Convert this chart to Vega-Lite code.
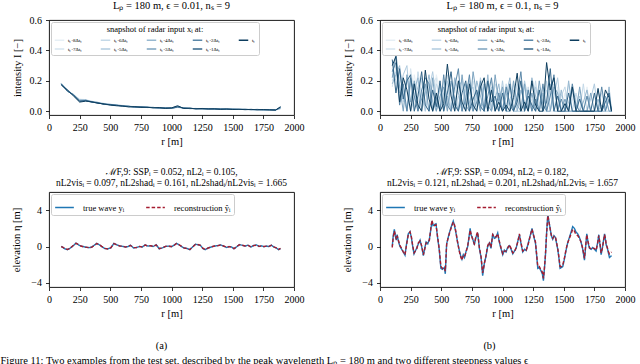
{
"$schema":"https://vega.github.io/schema/vega-lite/v6.json",
"background":"white",
"padding":{"left":0,"top":0,"right":0,"bottom":0},
"config":{
 "font":"Liberation Serif",
 "view":{"stroke":"black","strokeWidth":0.9},
 "axis":{"domain":false,"grid":false,"tickColor":"black","tickSize":3.5,"tickWidth":0.8,"labelFont":"Liberation Serif","labelFontSize":10,"labelColor":"black","labelPadding":4,"labelFlush":false,"labelOverlap":false,"labelBound":false,"titleFont":"Liberation Serif","titleFontSize":10.5,"titleFontWeight":"normal","titleColor":"black"},
 "axisX":{"titlePadding":4},
 "title":{"font":"Liberation Serif","fontSize":10.5,"fontWeight":"normal","color":"black","offset":4},
 "legend":{"labelFont":"Liberation Serif","titleFont":"Liberation Serif","labelColor":"black","titleColor":"black","titleFontWeight":"normal"}
},
"title":{"text":"Figure 11: Two examples from the test set, described by the peak wavelength Lₚ = 180 m and two different steepness values ϵ","orient":"bottom","anchor":"start","fontSize":10.5,"offset":-9,"dx":-11,"frame":"bounds"},
"datasets":{
"tl":[
{"r":100,"k":8,"v":0.186},{"r":150,"k":8,"v":0.137},{"r":200,"k":8,"v":0.107},{"r":250,"k":8,"v":0.08},{"r":300,"k":8,"v":0.076},{"r":350,"k":8,"v":0.066},{"r":400,"k":8,"v":0.057},{"r":450,"k":8,"v":0.052},{"r":500,"k":8,"v":0.047},{"r":550,"k":8,"v":0.041},{"r":600,"k":8,"v":0.037},{"r":650,"k":8,"v":0.031},{"r":700,"k":8,"v":0.03},{"r":750,"k":8,"v":0.027},{"r":800,"k":8,"v":0.026},{"r":850,"k":8,"v":0.024},{"r":900,"k":8,"v":0.022},{"r":950,"k":8,"v":0.021},{"r":1000,"k":8,"v":0.02},{"r":1050,"k":8,"v":0.024},{"r":1100,"k":8,"v":0.019},{"r":1150,"k":8,"v":0.018},{"r":1200,"k":8,"v":0.017},{"r":1250,"k":8,"v":0.016},{"r":1300,"k":8,"v":0.015},{"r":1350,"k":8,"v":0.015},{"r":1400,"k":8,"v":0.013},{"r":1450,"k":8,"v":0.013},{"r":1500,"k":8,"v":0.012},{"r":1550,"k":8,"v":0.012},{"r":1600,"k":8,"v":0.011},{"r":1650,"k":8,"v":0.01},{"r":1700,"k":8,"v":0.01},{"r":1750,"k":8,"v":0.009},{"r":1800,"k":8,"v":0.009},{"r":1850,"k":8,"v":0.008},{"r":1890,"k":8,"v":0.015},
{"r":100,"k":7,"v":0.181},{"r":150,"k":7,"v":0.139},{"r":200,"k":7,"v":0.112},{"r":250,"k":7,"v":0.078},{"r":300,"k":7,"v":0.073},{"r":350,"k":7,"v":0.065},{"r":400,"k":7,"v":0.059},{"r":450,"k":7,"v":0.051},{"r":500,"k":7,"v":0.043},{"r":550,"k":7,"v":0.042},{"r":600,"k":7,"v":0.036},{"r":650,"k":7,"v":0.033},{"r":700,"k":7,"v":0.029},{"r":750,"k":7,"v":0.029},{"r":800,"k":7,"v":0.025},{"r":850,"k":7,"v":0.025},{"r":900,"k":7,"v":0.021},{"r":950,"k":7,"v":0.022},{"r":1000,"k":7,"v":0.019},{"r":1050,"k":7,"v":0.025},{"r":1100,"k":7,"v":0.02},{"r":1150,"k":7,"v":0.018},{"r":1200,"k":7,"v":0.016},{"r":1250,"k":7,"v":0.017},{"r":1300,"k":7,"v":0.016},{"r":1350,"k":7,"v":0.014},{"r":1400,"k":7,"v":0.014},{"r":1450,"k":7,"v":0.012},{"r":1500,"k":7,"v":0.012},{"r":1550,"k":7,"v":0.011},{"r":1600,"k":7,"v":0.011},{"r":1650,"k":7,"v":0.011},{"r":1700,"k":7,"v":0.009},{"r":1750,"k":7,"v":0.01},{"r":1800,"k":7,"v":0.008},{"r":1850,"k":7,"v":0.008},{"r":1890,"k":7,"v":0.016},
{"r":100,"k":6,"v":0.184},{"r":150,"k":6,"v":0.134},{"r":200,"k":6,"v":0.109},{"r":250,"k":6,"v":0.076},{"r":300,"k":6,"v":0.075},{"r":350,"k":6,"v":0.062},{"r":400,"k":6,"v":0.056},{"r":450,"k":6,"v":0.05},{"r":500,"k":6,"v":0.046},{"r":550,"k":6,"v":0.039},{"r":600,"k":6,"v":0.038},{"r":650,"k":6,"v":0.032},{"r":700,"k":6,"v":0.031},{"r":750,"k":6,"v":0.028},{"r":800,"k":6,"v":0.027},{"r":850,"k":6,"v":0.023},{"r":900,"k":6,"v":0.023},{"r":950,"k":6,"v":0.02},{"r":1000,"k":6,"v":0.02},{"r":1050,"k":6,"v":0.028},{"r":1100,"k":6,"v":0.019},{"r":1150,"k":6,"v":0.019},{"r":1200,"k":6,"v":0.017},{"r":1250,"k":6,"v":0.016},{"r":1300,"k":6,"v":0.015},{"r":1350,"k":6,"v":0.015},{"r":1400,"k":6,"v":0.013},{"r":1450,"k":6,"v":0.013},{"r":1500,"k":6,"v":0.012},{"r":1550,"k":6,"v":0.012},{"r":1600,"k":6,"v":0.011},{"r":1650,"k":6,"v":0.01},{"r":1700,"k":6,"v":0.011},{"r":1750,"k":6,"v":0.009},{"r":1800,"k":6,"v":0.009},{"r":1850,"k":6,"v":0.008},{"r":1890,"k":6,"v":0.017},
{"r":100,"k":5,"v":0.179},{"r":150,"k":5,"v":0.141},{"r":200,"k":5,"v":0.103},{"r":250,"k":5,"v":0.072},{"r":300,"k":5,"v":0.071},{"r":350,"k":5,"v":0.064},{"r":400,"k":5,"v":0.058},{"r":450,"k":5,"v":0.048},{"r":500,"k":5,"v":0.044},{"r":550,"k":5,"v":0.041},{"r":600,"k":5,"v":0.035},{"r":650,"k":5,"v":0.034},{"r":700,"k":5,"v":0.028},{"r":750,"k":5,"v":0.03},{"r":800,"k":5,"v":0.024},{"r":850,"k":5,"v":0.024},{"r":900,"k":5,"v":0.022},{"r":950,"k":5,"v":0.021},{"r":1000,"k":5,"v":0.021},{"r":1050,"k":5,"v":0.026},{"r":1100,"k":5,"v":0.021},{"r":1150,"k":5,"v":0.017},{"r":1200,"k":5,"v":0.018},{"r":1250,"k":5,"v":0.015},{"r":1300,"k":5,"v":0.017},{"r":1350,"k":5,"v":0.014},{"r":1400,"k":5,"v":0.014},{"r":1450,"k":5,"v":0.012},{"r":1500,"k":5,"v":0.013},{"r":1550,"k":5,"v":0.011},{"r":1600,"k":5,"v":0.012},{"r":1650,"k":5,"v":0.011},{"r":1700,"k":5,"v":0.01},{"r":1750,"k":5,"v":0.01},{"r":1800,"k":5,"v":0.009},{"r":1850,"k":5,"v":0.009},{"r":1890,"k":5,"v":0.018},
{"r":100,"k":4,"v":0.182},{"r":150,"k":4,"v":0.136},{"r":200,"k":4,"v":0.106},{"r":250,"k":4,"v":0.074},{"r":300,"k":4,"v":0.074},{"r":350,"k":4,"v":0.06},{"r":400,"k":4,"v":0.053},{"r":450,"k":4,"v":0.049},{"r":500,"k":4,"v":0.045},{"r":550,"k":4,"v":0.04},{"r":600,"k":4,"v":0.037},{"r":650,"k":4,"v":0.031},{"r":700,"k":4,"v":0.03},{"r":750,"k":4,"v":0.027},{"r":800,"k":4,"v":0.026},{"r":850,"k":4,"v":0.025},{"r":900,"k":4,"v":0.021},{"r":950,"k":4,"v":0.022},{"r":1000,"k":4,"v":0.02},{"r":1050,"k":4,"v":0.029},{"r":1100,"k":4,"v":0.02},{"r":1150,"k":4,"v":0.02},{"r":1200,"k":4,"v":0.016},{"r":1250,"k":4,"v":0.018},{"r":1300,"k":4,"v":0.015},{"r":1350,"k":4,"v":0.015},{"r":1400,"k":4,"v":0.013},{"r":1450,"k":4,"v":0.014},{"r":1500,"k":4,"v":0.012},{"r":1550,"k":4,"v":0.012},{"r":1600,"k":4,"v":0.011},{"r":1650,"k":4,"v":0.012},{"r":1700,"k":4,"v":0.01},{"r":1750,"k":4,"v":0.009},{"r":1800,"k":4,"v":0.01},{"r":1850,"k":4,"v":0.008},{"r":1890,"k":4,"v":0.02},
{"r":100,"k":3,"v":0.176},{"r":150,"k":3,"v":0.13},{"r":200,"k":3,"v":0.11},{"r":250,"k":3,"v":0.07},{"r":300,"k":3,"v":0.069},{"r":350,"k":3,"v":0.063},{"r":400,"k":3,"v":0.057},{"r":450,"k":3,"v":0.045},{"r":500,"k":3,"v":0.041},{"r":550,"k":3,"v":0.039},{"r":600,"k":3,"v":0.034},{"r":650,"k":3,"v":0.033},{"r":700,"k":3,"v":0.026},{"r":750,"k":3,"v":0.028},{"r":800,"k":3,"v":0.025},{"r":850,"k":3,"v":0.024},{"r":900,"k":3,"v":0.023},{"r":950,"k":3,"v":0.021},{"r":1000,"k":3,"v":0.018},{"r":1050,"k":3,"v":0.027},{"r":1100,"k":3,"v":0.022},{"r":1150,"k":3,"v":0.018},{"r":1200,"k":3,"v":0.017},{"r":1250,"k":3,"v":0.016},{"r":1300,"k":3,"v":0.016},{"r":1350,"k":3,"v":0.014},{"r":1400,"k":3,"v":0.014},{"r":1450,"k":3,"v":0.013},{"r":1500,"k":3,"v":0.013},{"r":1550,"k":3,"v":0.013},{"r":1600,"k":3,"v":0.012},{"r":1650,"k":3,"v":0.01},{"r":1700,"k":3,"v":0.011},{"r":1750,"k":3,"v":0.01},{"r":1800,"k":3,"v":0.01},{"r":1850,"k":3,"v":0.009},{"r":1890,"k":3,"v":0.022},
{"r":100,"k":2,"v":0.18},{"r":150,"k":2,"v":0.138},{"r":200,"k":2,"v":0.104},{"r":250,"k":2,"v":0.064},{"r":300,"k":2,"v":0.072},{"r":350,"k":2,"v":0.061},{"r":400,"k":2,"v":0.054},{"r":450,"k":2,"v":0.047},{"r":500,"k":2,"v":0.043},{"r":550,"k":2,"v":0.037},{"r":600,"k":2,"v":0.036},{"r":650,"k":2,"v":0.03},{"r":700,"k":2,"v":0.029},{"r":750,"k":2,"v":0.026},{"r":800,"k":2,"v":0.027},{"r":850,"k":2,"v":0.023},{"r":900,"k":2,"v":0.022},{"r":950,"k":2,"v":0.02},{"r":1000,"k":2,"v":0.021},{"r":1050,"k":2,"v":0.031},{"r":1100,"k":2,"v":0.019},{"r":1150,"k":2,"v":0.019},{"r":1200,"k":2,"v":0.016},{"r":1250,"k":2,"v":0.017},{"r":1300,"k":2,"v":0.015},{"r":1350,"k":2,"v":0.016},{"r":1400,"k":2,"v":0.013},{"r":1450,"k":2,"v":0.014},{"r":1500,"k":2,"v":0.012},{"r":1550,"k":2,"v":0.012},{"r":1600,"k":2,"v":0.011},{"r":1650,"k":2,"v":0.011},{"r":1700,"k":2,"v":0.01},{"r":1750,"k":2,"v":0.01},{"r":1800,"k":2,"v":0.009},{"r":1850,"k":2,"v":0.008},{"r":1890,"k":2,"v":0.024},
{"r":100,"k":1,"v":0.178},{"r":150,"k":1,"v":0.132},{"r":200,"k":1,"v":0.108},{"r":250,"k":1,"v":0.066},{"r":300,"k":1,"v":0.07},{"r":350,"k":1,"v":0.058},{"r":400,"k":1,"v":0.056},{"r":450,"k":1,"v":0.044},{"r":500,"k":1,"v":0.044},{"r":550,"k":1,"v":0.04},{"r":600,"k":1,"v":0.033},{"r":650,"k":1,"v":0.032},{"r":700,"k":1,"v":0.027},{"r":750,"k":1,"v":0.029},{"r":800,"k":1,"v":0.024},{"r":850,"k":1,"v":0.025},{"r":900,"k":1,"v":0.021},{"r":950,"k":1,"v":0.022},{"r":1000,"k":1,"v":0.019},{"r":1050,"k":1,"v":0.028},{"r":1100,"k":1,"v":0.021},{"r":1150,"k":1,"v":0.017},{"r":1200,"k":1,"v":0.018},{"r":1250,"k":1,"v":0.015},{"r":1300,"k":1,"v":0.017},{"r":1350,"k":1,"v":0.014},{"r":1400,"k":1,"v":0.015},{"r":1450,"k":1,"v":0.012},{"r":1500,"k":1,"v":0.014},{"r":1550,"k":1,"v":0.011},{"r":1600,"k":1,"v":0.013},{"r":1650,"k":1,"v":0.01},{"r":1700,"k":1,"v":0.012},{"r":1750,"k":1,"v":0.009},{"r":1800,"k":1,"v":0.011},{"r":1850,"k":1,"v":0.009},{"r":1890,"k":1,"v":0.026},
{"r":100,"k":0,"v":0.172},{"r":150,"k":0,"v":0.14},{"r":200,"k":0,"v":0.1},{"r":250,"k":0,"v":0.06},{"r":300,"k":0,"v":0.066},{"r":350,"k":0,"v":0.062},{"r":400,"k":0,"v":0.052},{"r":450,"k":0,"v":0.048},{"r":500,"k":0,"v":0.04},{"r":550,"k":0,"v":0.036},{"r":600,"k":0,"v":0.034},{"r":650,"k":0,"v":0.028},{"r":700,"k":0,"v":0.03},{"r":750,"k":0,"v":0.025},{"r":800,"k":0,"v":0.026},{"r":850,"k":0,"v":0.022},{"r":900,"k":0,"v":0.024},{"r":950,"k":0,"v":0.018},{"r":1000,"k":0,"v":0.022},{"r":1050,"k":0,"v":0.036},{"r":1100,"k":0,"v":0.018},{"r":1150,"k":0,"v":0.02},{"r":1200,"k":0,"v":0.015},{"r":1250,"k":0,"v":0.018},{"r":1300,"k":0,"v":0.014},{"r":1350,"k":0,"v":0.016},{"r":1400,"k":0,"v":0.012},{"r":1450,"k":0,"v":0.015},{"r":1500,"k":0,"v":0.011},{"r":1550,"k":0,"v":0.013},{"r":1600,"k":0,"v":0.01},{"r":1650,"k":0,"v":0.012},{"r":1700,"k":0,"v":0.009},{"r":1750,"k":0,"v":0.011},{"r":1800,"k":0,"v":0.008},{"r":1850,"k":0,"v":0.007},{"r":1890,"k":0,"v":0.03}
],
"tr":[
{"r":100,"k":8,"v":0.24},{"r":130,"k":8,"v":0.18},{"r":160,"k":8,"v":0.26},{"r":190,"k":8,"v":0.2},{"r":220,"k":8,"v":0.12},{"r":250,"k":8,"v":0},{"r":280,"k":8,"v":0.24},{"r":310,"k":8,"v":0.1},{"r":340,"k":8,"v":0},{"r":370,"k":8,"v":0.18},{"r":400,"k":8,"v":0.1},{"r":430,"k":8,"v":0},{"r":460,"k":8,"v":0.24},{"r":490,"k":8,"v":0.14},{"r":520,"k":8,"v":0.08},{"r":550,"k":8,"v":0},{"r":580,"k":8,"v":0.18},{"r":610,"k":8,"v":0.12},{"r":640,"k":8,"v":0.2},{"r":670,"k":8,"v":0},{"r":700,"k":8,"v":0},{"r":730,"k":8,"v":0.16},{"r":760,"k":8,"v":0.1},{"r":790,"k":8,"v":0},{"r":820,"k":8,"v":0.14},{"r":850,"k":8,"v":0.2},{"r":880,"k":8,"v":0},{"r":910,"k":8,"v":0.1},{"r":940,"k":8,"v":0},{"r":970,"k":8,"v":0.14},{"r":1000,"k":8,"v":0.1},{"r":1030,"k":8,"v":0},{"r":1060,"k":8,"v":0.16},{"r":1090,"k":8,"v":0},{"r":1120,"k":8,"v":0.2},{"r":1150,"k":8,"v":0.08},{"r":1180,"k":8,"v":0},{"r":1210,"k":8,"v":0.12},{"r":1240,"k":8,"v":0.16},{"r":1270,"k":8,"v":0},{"r":1300,"k":8,"v":0},{"r":1330,"k":8,"v":0.14},{"r":1360,"k":8,"v":0.08},{"r":1390,"k":8,"v":0},{"r":1420,"k":8,"v":0},{"r":1450,"k":8,"v":0.16},{"r":1480,"k":8,"v":0},{"r":1510,"k":8,"v":0.12},{"r":1540,"k":8,"v":0},{"r":1570,"k":8,"v":0.1},{"r":1600,"k":8,"v":0.08},{"r":1630,"k":8,"v":0},{"r":1660,"k":8,"v":0},{"r":1690,"k":8,"v":0.16},{"r":1720,"k":8,"v":0},{"r":1750,"k":8,"v":0.1},{"r":1780,"k":8,"v":0},{"r":1810,"k":8,"v":0},{"r":1840,"k":8,"v":0.08},{"r":1870,"k":8,"v":0},{"r":1890,"k":8,"v":0},
{"r":100,"k":7,"v":0.16},{"r":130,"k":7,"v":0.3},{"r":160,"k":7,"v":0.22},{"r":190,"k":7,"v":0.14},{"r":220,"k":7,"v":0},{"r":250,"k":7,"v":0.28},{"r":280,"k":7,"v":0.12},{"r":310,"k":7,"v":0.06},{"r":340,"k":7,"v":0.2},{"r":370,"k":7,"v":0.14},{"r":400,"k":7,"v":0},{"r":430,"k":7,"v":0.18},{"r":460,"k":7,"v":0.22},{"r":490,"k":7,"v":0},{"r":520,"k":7,"v":0.2},{"r":550,"k":7,"v":0.08},{"r":580,"k":7,"v":0},{"r":610,"k":7,"v":0.22},{"r":640,"k":7,"v":0},{"r":670,"k":7,"v":0.16},{"r":700,"k":7,"v":0.1},{"r":730,"k":7,"v":0},{"r":760,"k":7,"v":0.2},{"r":790,"k":7,"v":0.08},{"r":820,"k":7,"v":0.18},{"r":850,"k":7,"v":0},{"r":880,"k":7,"v":0},{"r":910,"k":7,"v":0.2},{"r":940,"k":7,"v":0.12},{"r":970,"k":7,"v":0},{"r":1000,"k":7,"v":0.08},{"r":1030,"k":7,"v":0.14},{"r":1060,"k":7,"v":0},{"r":1090,"k":7,"v":0.18},{"r":1120,"k":7,"v":0},{"r":1150,"k":7,"v":0.12},{"r":1180,"k":7,"v":0.16},{"r":1210,"k":7,"v":0},{"r":1240,"k":7,"v":0.08},{"r":1270,"k":7,"v":0},{"r":1300,"k":7,"v":0.16},{"r":1330,"k":7,"v":0},{"r":1360,"k":7,"v":0},{"r":1390,"k":7,"v":0.12},{"r":1420,"k":7,"v":0},{"r":1450,"k":7,"v":0.14},{"r":1480,"k":7,"v":0},{"r":1510,"k":7,"v":0},{"r":1540,"k":7,"v":0.18},{"r":1570,"k":7,"v":0.08},{"r":1600,"k":7,"v":0},{"r":1630,"k":7,"v":0.14},{"r":1660,"k":7,"v":0},{"r":1690,"k":7,"v":0.1},{"r":1720,"k":7,"v":0},{"r":1750,"k":7,"v":0},{"r":1780,"k":7,"v":0},{"r":1810,"k":7,"v":0.12},{"r":1840,"k":7,"v":0},{"r":1870,"k":7,"v":0.14},{"r":1890,"k":7,"v":0},
{"r":100,"k":6,"v":0.2},{"r":130,"k":6,"v":0.26},{"r":160,"k":6,"v":0.18},{"r":190,"k":6,"v":0.06},{"r":220,"k":6,"v":0.22},{"r":250,"k":6,"v":0.16},{"r":280,"k":6,"v":0},{"r":310,"k":6,"v":0.26},{"r":340,"k":6,"v":0.1},{"r":370,"k":6,"v":0},{"r":400,"k":6,"v":0.2},{"r":430,"k":6,"v":0},{"r":460,"k":6,"v":0.18},{"r":490,"k":6,"v":0.12},{"r":520,"k":6,"v":0},{"r":550,"k":6,"v":0.24},{"r":580,"k":6,"v":0.14},{"r":610,"k":6,"v":0},{"r":640,"k":6,"v":0.1},{"r":670,"k":6,"v":0},{"r":700,"k":6,"v":0.14},{"r":730,"k":6,"v":0.2},{"r":760,"k":6,"v":0},{"r":790,"k":6,"v":0.12},{"r":820,"k":6,"v":0},{"r":850,"k":6,"v":0.16},{"r":880,"k":6,"v":0.2},{"r":910,"k":6,"v":0},{"r":940,"k":6,"v":0.18},{"r":970,"k":6,"v":0.1},{"r":1000,"k":6,"v":0},{"r":1030,"k":6,"v":0.18},{"r":1060,"k":6,"v":0},{"r":1090,"k":6,"v":0.06},{"r":1120,"k":6,"v":0.18},{"r":1150,"k":6,"v":0},{"r":1180,"k":6,"v":0},{"r":1210,"k":6,"v":0.16},{"r":1240,"k":6,"v":0},{"r":1270,"k":6,"v":0.2},{"r":1300,"k":6,"v":0},{"r":1330,"k":6,"v":0.08},{"r":1360,"k":6,"v":0.14},{"r":1390,"k":6,"v":0},{"r":1420,"k":6,"v":0.18},{"r":1450,"k":6,"v":0},{"r":1480,"k":6,"v":0.1},{"r":1510,"k":6,"v":0.16},{"r":1540,"k":6,"v":0},{"r":1570,"k":6,"v":0},{"r":1600,"k":6,"v":0.12},{"r":1630,"k":6,"v":0},{"r":1660,"k":6,"v":0.18},{"r":1690,"k":6,"v":0},{"r":1720,"k":6,"v":0},{"r":1750,"k":6,"v":0},{"r":1780,"k":6,"v":0.14},{"r":1810,"k":6,"v":0},{"r":1840,"k":6,"v":0.1},{"r":1870,"k":6,"v":0},{"r":1890,"k":6,"v":0},
{"r":100,"k":5,"v":0.28},{"r":130,"k":5,"v":0.2},{"r":160,"k":5,"v":0.12},{"r":190,"k":5,"v":0.24},{"r":220,"k":5,"v":0.3},{"r":250,"k":5,"v":0},{"r":280,"k":5,"v":0.08},{"r":310,"k":5,"v":0.16},{"r":340,"k":5,"v":0.22},{"r":370,"k":5,"v":0},{"r":400,"k":5,"v":0.14},{"r":430,"k":5,"v":0.26},{"r":460,"k":5,"v":0.08},{"r":490,"k":5,"v":0},{"r":520,"k":5,"v":0.12},{"r":550,"k":5,"v":0.2},{"r":580,"k":5,"v":0},{"r":610,"k":5,"v":0.06},{"r":640,"k":5,"v":0.16},{"r":670,"k":5,"v":0.2},{"r":700,"k":5,"v":0},{"r":730,"k":5,"v":0.12},{"r":760,"k":5,"v":0.16},{"r":790,"k":5,"v":0},{"r":820,"k":5,"v":0.22},{"r":850,"k":5,"v":0.08},{"r":880,"k":5,"v":0},{"r":910,"k":5,"v":0.16},{"r":940,"k":5,"v":0.04},{"r":970,"k":5,"v":0},{"r":1000,"k":5,"v":0.2},{"r":1030,"k":5,"v":0},{"r":1060,"k":5,"v":0.08},{"r":1090,"k":5,"v":0.14},{"r":1120,"k":5,"v":0},{"r":1150,"k":5,"v":0},{"r":1180,"k":5,"v":0.2},{"r":1210,"k":5,"v":0.08},{"r":1240,"k":5,"v":0},{"r":1270,"k":5,"v":0.16},{"r":1300,"k":5,"v":0.06},{"r":1330,"k":5,"v":0},{"r":1360,"k":5,"v":0.2},{"r":1390,"k":5,"v":0},{"r":1420,"k":5,"v":0.1},{"r":1450,"k":5,"v":0.22},{"r":1480,"k":5,"v":0},{"r":1510,"k":5,"v":0},{"r":1540,"k":5,"v":0.06},{"r":1570,"k":5,"v":0.14},{"r":1600,"k":5,"v":0},{"r":1630,"k":5,"v":0.1},{"r":1660,"k":5,"v":0},{"r":1690,"k":5,"v":0},{"r":1720,"k":5,"v":0.08},{"r":1750,"k":5,"v":0.18},{"r":1780,"k":5,"v":0},{"r":1810,"k":5,"v":0.04},{"r":1840,"k":5,"v":0},{"r":1870,"k":5,"v":0},{"r":1890,"k":5,"v":0},
{"r":100,"k":4,"v":0.18},{"r":130,"k":4,"v":0.24},{"r":160,"k":4,"v":0.3},{"r":190,"k":4,"v":0.1},{"r":220,"k":4,"v":0},{"r":250,"k":4,"v":0.2},{"r":280,"k":4,"v":0.14},{"r":310,"k":4,"v":0.22},{"r":340,"k":4,"v":0},{"r":370,"k":4,"v":0.12},{"r":400,"k":4,"v":0.24},{"r":430,"k":4,"v":0.06},{"r":460,"k":4,"v":0},{"r":490,"k":4,"v":0.18},{"r":520,"k":4,"v":0},{"r":550,"k":4,"v":0.1},{"r":580,"k":4,"v":0},{"r":610,"k":4,"v":0.22},{"r":640,"k":4,"v":0.12},{"r":670,"k":4,"v":0},{"r":700,"k":4,"v":0.18},{"r":730,"k":4,"v":0.06},{"r":760,"k":4,"v":0},{"r":790,"k":4,"v":0.2},{"r":820,"k":4,"v":0.1},{"r":850,"k":4,"v":0},{"r":880,"k":4,"v":0.24},{"r":910,"k":4,"v":0},{"r":940,"k":4,"v":0.08},{"r":970,"k":4,"v":0.18},{"r":1000,"k":4,"v":0},{"r":1030,"k":4,"v":0.1},{"r":1060,"k":4,"v":0.22},{"r":1090,"k":4,"v":0},{"r":1120,"k":4,"v":0},{"r":1150,"k":4,"v":0.14},{"r":1180,"k":4,"v":0.06},{"r":1210,"k":4,"v":0},{"r":1240,"k":4,"v":0.22},{"r":1270,"k":4,"v":0.1},{"r":1300,"k":4,"v":0},{"r":1330,"k":4,"v":0.12},{"r":1360,"k":4,"v":0},{"r":1390,"k":4,"v":0.18},{"r":1420,"k":4,"v":0},{"r":1450,"k":4,"v":0},{"r":1480,"k":4,"v":0.14},{"r":1510,"k":4,"v":0},{"r":1540,"k":4,"v":0.2},{"r":1570,"k":4,"v":0},{"r":1600,"k":4,"v":0},{"r":1630,"k":4,"v":0},{"r":1660,"k":4,"v":0.06},{"r":1690,"k":4,"v":0.14},{"r":1720,"k":4,"v":0},{"r":1750,"k":4,"v":0},{"r":1780,"k":4,"v":0.08},{"r":1810,"k":4,"v":0},{"r":1840,"k":4,"v":0},{"r":1870,"k":4,"v":0.16},{"r":1890,"k":4,"v":0},
{"r":100,"k":3,"v":0.22},{"r":130,"k":3,"v":0.38},{"r":160,"k":3,"v":0.16},{"r":190,"k":3,"v":0},{"r":220,"k":3,"v":0.24},{"r":250,"k":3,"v":0.06},{"r":280,"k":3,"v":0.2},{"r":310,"k":3,"v":0},{"r":340,"k":3,"v":0.08},{"r":370,"k":3,"v":0.18},{"r":400,"k":3,"v":0},{"r":430,"k":3,"v":0.22},{"r":460,"k":3,"v":0},{"r":490,"k":3,"v":0.1},{"r":520,"k":3,"v":0.16},{"r":550,"k":3,"v":0},{"r":580,"k":3,"v":0.2},{"r":610,"k":3,"v":0.08},{"r":640,"k":3,"v":0},{"r":670,"k":3,"v":0.24},{"r":700,"k":3,"v":0.04},{"r":730,"k":3,"v":0},{"r":760,"k":3,"v":0.26},{"r":790,"k":3,"v":0.1},{"r":820,"k":3,"v":0},{"r":850,"k":3,"v":0.18},{"r":880,"k":3,"v":0.04},{"r":910,"k":3,"v":0},{"r":940,"k":3,"v":0.24},{"r":970,"k":3,"v":0.06},{"r":1000,"k":3,"v":0.16},{"r":1030,"k":3,"v":0},{"r":1060,"k":3,"v":0},{"r":1090,"k":3,"v":0.2},{"r":1120,"k":3,"v":0.04},{"r":1150,"k":3,"v":0},{"r":1180,"k":3,"v":0.18},{"r":1210,"k":3,"v":0},{"r":1240,"k":3,"v":0.12},{"r":1270,"k":3,"v":0},{"r":1300,"k":3,"v":0.2},{"r":1330,"k":3,"v":0.04},{"r":1360,"k":3,"v":0},{"r":1390,"k":3,"v":0},{"r":1420,"k":3,"v":0.16},{"r":1450,"k":3,"v":0.12},{"r":1480,"k":3,"v":0},{"r":1510,"k":3,"v":0.08},{"r":1540,"k":3,"v":0},{"r":1570,"k":3,"v":0},{"r":1600,"k":3,"v":0},{"r":1630,"k":3,"v":0.16},{"r":1660,"k":3,"v":0},{"r":1690,"k":3,"v":0},{"r":1720,"k":3,"v":0.12},{"r":1750,"k":3,"v":0},{"r":1780,"k":3,"v":0},{"r":1810,"k":3,"v":0},{"r":1840,"k":3,"v":0.1},{"r":1870,"k":3,"v":0},{"r":1890,"k":3,"v":0},
{"r":100,"k":2,"v":0.26},{"r":130,"k":2,"v":0.32},{"r":160,"k":2,"v":0.04},{"r":190,"k":2,"v":0.18},{"r":220,"k":2,"v":0},{"r":250,"k":2,"v":0.22},{"r":280,"k":2,"v":0.1},{"r":310,"k":2,"v":0},{"r":340,"k":2,"v":0.14},{"r":370,"k":2,"v":0.22},{"r":400,"k":2,"v":0.18},{"r":430,"k":2,"v":0},{"r":460,"k":2,"v":0.09},{"r":490,"k":2,"v":0},{"r":520,"k":2,"v":0.24},{"r":550,"k":2,"v":0.04},{"r":580,"k":2,"v":0},{"r":610,"k":2,"v":0.16},{"r":640,"k":2,"v":0.28},{"r":670,"k":2,"v":0},{"r":700,"k":2,"v":0.08},{"r":730,"k":2,"v":0.24},{"r":760,"k":2,"v":0},{"r":790,"k":2,"v":0.06},{"r":820,"k":2,"v":0.2},{"r":850,"k":2,"v":0},{"r":880,"k":2,"v":0.1},{"r":910,"k":2,"v":0.22},{"r":940,"k":2,"v":0},{"r":970,"k":2,"v":0.12},{"r":1000,"k":2,"v":0},{"r":1030,"k":2,"v":0.16},{"r":1060,"k":2,"v":0.04},{"r":1090,"k":2,"v":0},{"r":1120,"k":2,"v":0.1},{"r":1150,"k":2,"v":0.26},{"r":1180,"k":2,"v":0},{"r":1210,"k":2,"v":0.14},{"r":1240,"k":2,"v":0},{"r":1270,"k":2,"v":0.08},{"r":1300,"k":2,"v":0},{"r":1330,"k":2,"v":0.18},{"r":1360,"k":2,"v":0},{"r":1390,"k":2,"v":0.1},{"r":1420,"k":2,"v":0.24},{"r":1450,"k":2,"v":0},{"r":1480,"k":2,"v":0.08},{"r":1510,"k":2,"v":0},{"r":1540,"k":2,"v":0},{"r":1570,"k":2,"v":0.18},{"r":1600,"k":2,"v":0.04},{"r":1630,"k":2,"v":0},{"r":1660,"k":2,"v":0},{"r":1690,"k":2,"v":0.1},{"r":1720,"k":2,"v":0},{"r":1750,"k":2,"v":0},{"r":1780,"k":2,"v":0},{"r":1810,"k":2,"v":0.16},{"r":1840,"k":2,"v":0},{"r":1870,"k":2,"v":0.08},{"r":1890,"k":2,"v":0},
{"r":100,"k":1,"v":0.34},{"r":130,"k":1,"v":0.12},{"r":160,"k":1,"v":0.28},{"r":190,"k":1,"v":0.08},{"r":220,"k":1,"v":0.2},{"r":250,"k":1,"v":0.24},{"r":280,"k":1,"v":0},{"r":310,"k":1,"v":0.1},{"r":340,"k":1,"v":0.26},{"r":370,"k":1,"v":0.04},{"r":400,"k":1,"v":0},{"r":430,"k":1,"v":0.14},{"r":460,"k":1,"v":0.03},{"r":490,"k":1,"v":0.2},{"r":520,"k":1,"v":0},{"r":550,"k":1,"v":0.12},{"r":580,"k":1,"v":0.26},{"r":610,"k":1,"v":0.04},{"r":640,"k":1,"v":0},{"r":670,"k":1,"v":0.12},{"r":700,"k":1,"v":0.2},{"r":730,"k":1,"v":0},{"r":760,"k":1,"v":0.08},{"r":790,"k":1,"v":0.14},{"r":820,"k":1,"v":0.03},{"r":850,"k":1,"v":0},{"r":880,"k":1,"v":0.2},{"r":910,"k":1,"v":0.06},{"r":940,"k":1,"v":0.1},{"r":970,"k":1,"v":0},{"r":1000,"k":1,"v":0.12},{"r":1030,"k":1,"v":0},{"r":1060,"k":1,"v":0.18},{"r":1090,"k":1,"v":0},{"r":1120,"k":1,"v":0.06},{"r":1150,"k":1,"v":0.2},{"r":1180,"k":1,"v":0},{"r":1210,"k":1,"v":0.1},{"r":1240,"k":1,"v":0.04},{"r":1270,"k":1,"v":0},{"r":1300,"k":1,"v":0.14},{"r":1330,"k":1,"v":0},{"r":1360,"k":1,"v":0.06},{"r":1390,"k":1,"v":0.28},{"r":1420,"k":1,"v":0},{"r":1450,"k":1,"v":0.1},{"r":1480,"k":1,"v":0},{"r":1510,"k":1,"v":0},{"r":1540,"k":1,"v":0.12},{"r":1570,"k":1,"v":0},{"r":1600,"k":1,"v":0},{"r":1630,"k":1,"v":0.08},{"r":1660,"k":1,"v":0},{"r":1690,"k":1,"v":0},{"r":1720,"k":1,"v":0},{"r":1750,"k":1,"v":0.12},{"r":1780,"k":1,"v":0},{"r":1810,"k":1,"v":0},{"r":1840,"k":1,"v":0.06},{"r":1870,"k":1,"v":0.12},{"r":1890,"k":1,"v":0},
{"r":100,"k":0,"v":0.3},{"r":130,"k":0,"v":0.36},{"r":160,"k":0,"v":0.06},{"r":190,"k":0,"v":0.22},{"r":220,"k":0,"v":0.14},{"r":250,"k":0,"v":0},{"r":280,"k":0,"v":0.18},{"r":310,"k":0,"v":0.04},{"r":340,"k":0,"v":0},{"r":370,"k":0,"v":0.27},{"r":400,"k":0,"v":0.08},{"r":430,"k":0,"v":0},{"r":460,"k":0,"v":0.12},{"r":490,"k":0,"v":0},{"r":520,"k":0,"v":0.05},{"r":550,"k":0,"v":0.31},{"r":580,"k":0,"v":0.1},{"r":610,"k":0,"v":0},{"r":640,"k":0,"v":0.2},{"r":670,"k":0,"v":0.06},{"r":700,"k":0,"v":0},{"r":730,"k":0,"v":0.18},{"r":760,"k":0,"v":0.04},{"r":790,"k":0,"v":0},{"r":820,"k":0,"v":0.16},{"r":850,"k":0,"v":0.22},{"r":880,"k":0,"v":0},{"r":910,"k":0,"v":0.14},{"r":940,"k":0,"v":0},{"r":970,"k":0,"v":0.06},{"r":1000,"k":0,"v":0},{"r":1030,"k":0,"v":0.04},{"r":1060,"k":0,"v":0},{"r":1090,"k":0,"v":0.09},{"r":1120,"k":0,"v":0.25},{"r":1150,"k":0,"v":0},{"r":1180,"k":0,"v":0.06},{"r":1210,"k":0,"v":0},{"r":1240,"k":0,"v":0.2},{"r":1270,"k":0,"v":0.04},{"r":1300,"k":0,"v":0},{"r":1330,"k":0,"v":0},{"r":1360,"k":0,"v":0.32},{"r":1390,"k":0,"v":0.14},{"r":1420,"k":0,"v":0.22},{"r":1450,"k":0,"v":0},{"r":1480,"k":0,"v":0},{"r":1510,"k":0,"v":0.05},{"r":1540,"k":0,"v":0},{"r":1570,"k":0,"v":0.16},{"r":1600,"k":0,"v":0},{"r":1630,"k":0,"v":0},{"r":1660,"k":0,"v":0},{"r":1690,"k":0,"v":0},{"r":1720,"k":0,"v":0},{"r":1750,"k":0,"v":0},{"r":1780,"k":0,"v":0.15},{"r":1810,"k":0,"v":0},{"r":1840,"k":0,"v":0.14},{"r":1870,"k":0,"v":0.09},{"r":1890,"k":0,"v":0}
],
"bl":[
{"r":100,"t":0.02,"p":0.0},{"r":115,"t":-0.12,"p":-0.1},{"r":130,"t":-0.25,"p":-0.22},{"r":150,"t":-0.35,"p":-0.32},{"r":170,"t":-0.2,"p":-0.22},{"r":195,"t":0.05,"p":0.08},{"r":220,"t":0.38,"p":0.35},{"r":240,"t":0.2,"p":0.22},{"r":260,"t":0.05,"p":0.06},{"r":280,"t":0.0,"p":-0.02},{"r":300,"t":-0.08,"p":-0.06},{"r":330,"t":-0.12,"p":-0.14},{"r":350,"t":-0.05,"p":-0.06},{"r":370,"t":0.15,"p":0.12},{"r":390,"t":0.35,"p":0.33},{"r":410,"t":0.2,"p":0.22},{"r":430,"t":0.0,"p":0.02},{"r":455,"t":-0.22,"p":-0.2},{"r":480,"t":-0.25,"p":-0.26},{"r":505,"t":-0.15,"p":-0.12},{"r":530,"t":0.35,"p":0.32},{"r":550,"t":0.2,"p":0.22},{"r":575,"t":0.08,"p":0.06},{"r":600,"t":0.02,"p":0.04},{"r":625,"t":-0.05,"p":-0.06},{"r":645,"t":0.0,"p":0.02},{"r":665,"t":0.15,"p":0.12},{"r":690,"t":-0.15,"p":-0.12},{"r":715,"t":-0.1,"p":-0.12},{"r":740,"t":0.0,"p":0.02},{"r":760,"t":-0.05,"p":-0.04},{"r":785,"t":0.18,"p":0.16},{"r":805,"t":0.05,"p":0.07},{"r":830,"t":0.1,"p":0.08},{"r":850,"t":0.0,"p":0.02},{"r":875,"t":0.2,"p":0.17},{"r":900,"t":-0.25,"p":-0.22},{"r":925,"t":-0.15,"p":-0.16},{"r":950,"t":0.0,"p":0.02},{"r":975,"t":0.05,"p":0.04},{"r":1000,"t":-0.02,"p":0.0},{"r":1020,"t":0.15,"p":0.12},{"r":1040,"t":0.35,"p":0.32},{"r":1060,"t":0.2,"p":0.22},{"r":1080,"t":0.02,"p":0.04},{"r":1100,"t":-0.15,"p":-0.14},{"r":1125,"t":-0.2,"p":-0.22},{"r":1150,"t":-0.35,"p":-0.32},{"r":1175,"t":0.0,"p":-0.02},{"r":1195,"t":0.25,"p":0.22},{"r":1215,"t":0.2,"p":0.22},{"r":1235,"t":0.15,"p":0.13},{"r":1255,"t":-0.2,"p":-0.18},{"r":1275,"t":-0.35,"p":-0.33},{"r":1300,"t":-0.15,"p":-0.16},{"r":1325,"t":-0.05,"p":-0.04},{"r":1350,"t":0.05,"p":0.06},{"r":1375,"t":0.1,"p":0.08},{"r":1400,"t":0.18,"p":0.17},{"r":1425,"t":0.05,"p":0.06},{"r":1450,"t":-0.1,"p":-0.08},{"r":1470,"t":0.0,"p":-0.02},{"r":1490,"t":-0.05,"p":-0.04},{"r":1510,"t":-0.25,"p":-0.22},{"r":1535,"t":0.0,"p":0.02},{"r":1555,"t":0.22,"p":0.2},{"r":1575,"t":0.15,"p":0.16},{"r":1600,"t":0.05,"p":0.06},{"r":1625,"t":0.15,"p":0.13},{"r":1650,"t":-0.05,"p":-0.04},{"r":1670,"t":0.12,"p":0.1},{"r":1695,"t":0.18,"p":0.16},{"r":1715,"t":0.0,"p":0.02},{"r":1735,"t":0.08,"p":0.06},{"r":1755,"t":-0.02,"p":0.0},{"r":1775,"t":0.05,"p":0.04},{"r":1795,"t":0.0,"p":0.02},{"r":1815,"t":0.15,"p":0.13},{"r":1835,"t":-0.05,"p":-0.04},{"r":1855,"t":-0.15,"p":-0.14},{"r":1875,"t":-0.35,"p":-0.32},{"r":1890,"t":-0.22,"p":-0.2}
],
"br":[
{"r":100,"t":0.0,"p":-0.1},{"r":108,"t":1.2,"p":1.0},{"r":117,"t":1.9,"p":1.7},{"r":125,"t":1.2,"p":1.3},{"r":133,"t":0.7,"p":0.8},{"r":140,"t":1.3,"p":1.2},{"r":150,"t":0.6,"p":0.7},{"r":163,"t":0.0,"p":0.1},{"r":177,"t":-0.3,"p":-0.2},{"r":190,"t":-0.6,"p":-0.6},{"r":204,"t":-0.95,"p":-0.9},{"r":218,"t":0.4,"p":0.3},{"r":231,"t":1.4,"p":1.3},{"r":245,"t":1.65,"p":1.6},{"r":256,"t":1.0,"p":1.1},{"r":267,"t":0.0,"p":0.1},{"r":278,"t":-0.8,"p":-0.7},{"r":288,"t":-0.5,"p":-0.5},{"r":299,"t":-0.2,"p":-0.3},{"r":313,"t":0.3,"p":0.4},{"r":327,"t":0.7,"p":0.6},{"r":340,"t":0.0,"p":0.1},{"r":354,"t":-1.0,"p":-0.9},{"r":365,"t":-0.2,"p":-0.3},{"r":376,"t":0.5,"p":0.4},{"r":390,"t":0.3,"p":0.4},{"r":403,"t":0.8,"p":0.7},{"r":414,"t":1.8,"p":1.9},{"r":424,"t":2.8,"p":2.9},{"r":433,"t":2.3,"p":2.4},{"r":443,"t":2.4,"p":2.3},{"r":457,"t":2.5,"p":2.4},{"r":470,"t":1.0,"p":1.1},{"r":484,"t":-0.4,"p":-0.3},{"r":497,"t":-2.4,"p":-2.2},{"r":510,"t":-2.5,"p":-2.4},{"r":525,"t":-2.3,"p":-2.3},{"r":533,"t":-3.0,"p":-2.7},{"r":544,"t":0.3,"p":0.2},{"r":555,"t":0.9,"p":0.9},{"r":566,"t":1.5,"p":1.4},{"r":582,"t":2.2,"p":2.1},{"r":598,"t":2.8,"p":2.7},{"r":608,"t":2.3,"p":2.4},{"r":620,"t":1.5,"p":1.6},{"r":633,"t":0.5,"p":0.5},{"r":647,"t":-0.4,"p":-0.5},{"r":658,"t":-1.0,"p":-1.1},{"r":669,"t":-1.4,"p":-1.5},{"r":680,"t":-0.9,"p":-1.0},{"r":690,"t":-1.2,"p":-1.1},{"r":703,"t":-0.5,"p":-0.6},{"r":716,"t":0.0,"p":0.1},{"r":728,"t":1.2,"p":1.1},{"r":736,"t":2.0,"p":1.8},{"r":743,"t":1.3,"p":1.4},{"r":756,"t":0.9,"p":0.8},{"r":770,"t":0.2,"p":0.3},{"r":783,"t":1.0,"p":1.1},{"r":797,"t":1.5,"p":1.6},{"r":811,"t":-0.2,"p":-0.1},{"r":825,"t":-1.2,"p":-1.1},{"r":838,"t":-3.2,"p":-2.9},{"r":852,"t":-1.8,"p":-1.9},{"r":865,"t":-1.1,"p":-1.0},{"r":879,"t":0.0,"p":0.1},{"r":893,"t":0.4,"p":0.5},{"r":906,"t":-0.2,"p":-0.1},{"r":920,"t":1.4,"p":1.3},{"r":933,"t":0.9,"p":1.0},{"r":947,"t":1.0,"p":1.1},{"r":961,"t":1.5,"p":1.4},{"r":972,"t":0.6,"p":0.7},{"r":985,"t":-0.1,"p":0.0},{"r":1002,"t":-0.9,"p":-0.8},{"r":1015,"t":-0.4,"p":-0.5},{"r":1029,"t":-0.6,"p":-0.5},{"r":1042,"t":-0.1,"p":-0.2},{"r":1056,"t":0.1,"p":0.2},{"r":1070,"t":-0.3,"p":-0.2},{"r":1084,"t":-0.8,"p":-0.7},{"r":1097,"t":-0.5,"p":-0.6},{"r":1111,"t":-0.2,"p":-0.1},{"r":1125,"t":0.6,"p":0.5},{"r":1138,"t":1.3,"p":1.4},{"r":1150,"t":0.4,"p":0.5},{"r":1165,"t":-0.6,"p":-0.5},{"r":1180,"t":-0.3,"p":-0.4},{"r":1193,"t":-0.45,"p":-0.4},{"r":1207,"t":0.2,"p":0.1},{"r":1220,"t":0.9,"p":0.8},{"r":1232,"t":1.5,"p":1.5},{"r":1241,"t":2.0,"p":1.9},{"r":1255,"t":1.1,"p":1.2},{"r":1269,"t":0.4,"p":0.5},{"r":1279,"t":-1.0,"p":-0.9},{"r":1288,"t":-2.4,"p":-2.2},{"r":1300,"t":-2.3,"p":-2.2},{"r":1315,"t":-2.7,"p":-2.6},{"r":1325,"t":-3.0,"p":-2.8},{"r":1334,"t":-3.75,"p":-3.5},{"r":1342,"t":-2.5,"p":-2.4},{"r":1350,"t":-1.1,"p":-1.0},{"r":1360,"t":1.5,"p":1.4},{"r":1370,"t":3.6,"p":3.4},{"r":1380,"t":2.6,"p":2.7},{"r":1388,"t":2.1,"p":2.0},{"r":1398,"t":1.2,"p":1.3},{"r":1410,"t":0.8,"p":0.9},{"r":1420,"t":1.2,"p":1.1},{"r":1432,"t":1.0,"p":1.1},{"r":1442,"t":0.3,"p":0.4},{"r":1451,"t":-0.3,"p":-0.2},{"r":1460,"t":-1.2,"p":-1.1},{"r":1470,"t":-2.4,"p":-2.2},{"r":1481,"t":-2.3,"p":-2.2},{"r":1492,"t":-2.2,"p":-2.0},{"r":1505,"t":-1.4,"p":-1.3},{"r":1519,"t":-0.4,"p":-0.3},{"r":1532,"t":0.4,"p":0.4},{"r":1546,"t":1.0,"p":0.9},{"r":1560,"t":1.6,"p":1.4},{"r":1573,"t":2.2,"p":1.9},{"r":1587,"t":2.0,"p":1.7},{"r":1600,"t":1.6,"p":1.3},{"r":1614,"t":1.4,"p":1.2},{"r":1628,"t":1.0,"p":0.9},{"r":1641,"t":0.5,"p":0.5},{"r":1655,"t":-0.3,"p":-0.2},{"r":1669,"t":-1.5,"p":-1.3},{"r":1679,"t":0.0,"p":0.1},{"r":1688,"t":1.4,"p":1.3},{"r":1699,"t":0.4,"p":0.5},{"r":1710,"t":-0.2,"p":-0.1},{"r":1724,"t":-0.3,"p":-0.3},{"r":1737,"t":-0.1,"p":-0.2},{"r":1750,"t":-0.3,"p":-0.2},{"r":1764,"t":-0.5,"p":-0.4},{"r":1776,"t":0.4,"p":0.3},{"r":1786,"t":1.3,"p":1.2},{"r":1796,"t":0.2,"p":0.3},{"r":1805,"t":-0.9,"p":-0.7},{"r":1815,"t":-0.2,"p":-0.2},{"r":1826,"t":0.8,"p":0.7},{"r":1833,"t":1.4,"p":1.3},{"r":1840,"t":0.8,"p":0.9},{"r":1846,"t":0.2,"p":0.3},{"r":1858,"t":-0.3,"p":-0.2},{"r":1866,"t":-0.8,"p":-0.6},{"r":1873,"t":-1.2,"p":-0.8},{"r":1882,"t":-1.1,"p":-0.7},{"r":1890,"t":-1.0,"p":-0.6}
]
},
"concat":[
  {"width":245,"height":95,"title":{"text":"Lₚ = 180 m, ϵ = 0.01, nₛ = 9"},"data":{"name":"tl"},
   "mark":{"type":"line","strokeWidth":1},
   "encoding":{
    "x":{"field":"r","type":"quantitative","scale":{"domain":[0,2000],"nice":false},"axis":{"values":[0,250,500,750,1000,1250,1500,1750,2000],"format":"d","title":"r [m]"}},
    "y":{"field":"v","type":"quantitative","scale":{"domain":[-0.025,0.6],"nice":false,"zero":false},"axis":{"values":[0,0.2,0.4,0.6],"format":".1f","title":"intensity I [−]","titlePadding":7}},
    "color":{"field":"k","type":"nominal","scale":{"domain":[8,6,4,2,0,7,5,3,1],"range":["#e6eff5","#c4d9e8","#97b8d0","#5a87a8","#0d3d5e","#d6e5ef","#b0cbdf","#7ca3bf","#34668a"]},
     "legend":{"orient":"top-left","offset":2,"columns":5,"direction":"horizontal","title":"snapshot of radar input xᵢ at:","titleAnchor":"middle","titleFontSize":8.5,"titlePadding":1,"labelFontSize":5,"symbolType":"stroke","symbolSize":90,"symbolStrokeWidth":1.5,"columnPadding":14,"rowPadding":0,"labelOffset":3,"padding":3,"fillColor":"white","strokeColor":"#cccccc","cornerRadius":2,"labelExpr":"datum.label == '0' ? 'tₛ' : 'tₛ-' + datum.label + 'Δtₛ'"}}
   }},
  {"width":245,"height":95,"title":{"text":"Lₚ = 180 m, ϵ = 0.1, nₛ = 9"},"data":{"name":"tr"},
   "mark":{"type":"line","strokeWidth":1},
   "encoding":{
    "x":{"field":"r","type":"quantitative","scale":{"domain":[0,2000],"nice":false},"axis":{"values":[0,250,500,750,1000,1250,1500,1750,2000],"format":"d","title":"r [m]"}},
    "y":{"field":"v","type":"quantitative","scale":{"domain":[-0.025,0.6],"nice":false,"zero":false},"axis":{"values":[0,0.2,0.4,0.6],"format":".1f","title":"intensity I [−]","titlePadding":7}},
    "color":{"field":"k","type":"nominal","scale":{"domain":[8,6,4,2,0,7,5,3,1],"range":["#e6eff5","#c4d9e8","#97b8d0","#5a87a8","#0d3d5e","#d6e5ef","#b0cbdf","#7ca3bf","#34668a"]},
     "legend":{"orient":"top-left","offset":2,"columns":5,"direction":"horizontal","title":"snapshot of radar input xᵢ at:","titleAnchor":"middle","titleFontSize":8.5,"titlePadding":1,"labelFontSize":5,"symbolType":"stroke","symbolSize":90,"symbolStrokeWidth":1.5,"columnPadding":14,"rowPadding":0,"labelOffset":3,"padding":3,"fillColor":"white","strokeColor":"#cccccc","cornerRadius":2,"labelExpr":"datum.label == '0' ? 'tₛ' : 'tₛ-' + datum.label + 'Δtₛ'"}}
   }},
  {"width":245,"height":95,"title":{"text":["ℳF,9: SSPᵢ = 0.052, nL2ᵢ = 0.105,","nL2visᵢ = 0.097, nL2shadᵢ = 0.161, nL2shadᵢ/nL2visᵢ = 1.665"],"fontSize":9.5,"lineHeight":11,"offset":5},
   "data":{"name":"bl"},
   "encoding":{"x":{"field":"r","type":"quantitative","scale":{"domain":[0,2000],"nice":false},"axis":{"values":[0,250,500,750,1000,1250,1500,1750,2000],"format":"d","title":"r [m]"}}},
   "layer":[
    {"mark":{"type":"line","strokeWidth":1.4},"encoding":{"y":{"field":"t","type":"quantitative","scale":{"domain":[-4.45,6],"nice":false,"zero":false},"axis":{"values":[-4,-2,0,2,4],"title":"elevation η [m]","titlePadding":9}},
     "color":{"datum":"true wave yᵢ","type":"nominal","scale":{"domain":["true wave yᵢ","reconstruction ŷᵢ"],"range":["#1f77b4","#a51c30"]},"legend":{"orient":"top-left","offset":2,"direction":"horizontal","title":null,"labelFontSize":8.5,"symbolType":"stroke","symbolSize":350,"symbolStrokeWidth":1.5,"columnPadding":18,"padding":3,"fillColor":"white","strokeColor":"#cccccc","cornerRadius":2,"labelOffset":8}},
     "strokeDash":{"datum":"true wave yᵢ","type":"nominal","scale":{"domain":["true wave yᵢ","reconstruction ŷᵢ"],"range":[[1,0],[3.5,2]]},"legend":{"orient":"top-left","offset":2,"direction":"horizontal","title":null,"labelFontSize":8.5,"symbolType":"stroke","symbolSize":350,"symbolStrokeWidth":1.5,"columnPadding":18,"padding":3,"fillColor":"white","strokeColor":"#cccccc","cornerRadius":2,"labelOffset":8}}}},
    {"mark":{"type":"line","strokeWidth":1.4},"encoding":{"y":{"field":"p","type":"quantitative"},"color":{"datum":"reconstruction ŷᵢ","type":"nominal"},"strokeDash":{"datum":"reconstruction ŷᵢ","type":"nominal"}}}
   ]},
  {"width":245,"height":95,"title":{"text":["ℳF,9: SSPᵢ = 0.094, nL2ᵢ = 0.182,","nL2visᵢ = 0.121, nL2shadᵢ = 0.201, nL2shadᵢ/nL2visᵢ = 1.657"],"fontSize":9.5,"lineHeight":11,"offset":5},
   "data":{"name":"br"},
   "encoding":{"x":{"field":"r","type":"quantitative","scale":{"domain":[0,2000],"nice":false},"axis":{"values":[0,250,500,750,1000,1250,1500,1750,2000],"format":"d","title":"r [m]"}}},
   "layer":[
    {"mark":{"type":"line","strokeWidth":1.4},"encoding":{"y":{"field":"t","type":"quantitative","scale":{"domain":[-4.45,6],"nice":false,"zero":false},"axis":{"values":[-4,-2,0,2,4],"title":"elevation η [m]","titlePadding":9}},
     "color":{"datum":"true wave yᵢ","type":"nominal","scale":{"domain":["true wave yᵢ","reconstruction ŷᵢ"],"range":["#1f77b4","#a51c30"]},"legend":{"orient":"top-left","offset":2,"direction":"horizontal","title":null,"labelFontSize":8.5,"symbolType":"stroke","symbolSize":350,"symbolStrokeWidth":1.5,"columnPadding":18,"padding":3,"fillColor":"white","strokeColor":"#cccccc","cornerRadius":2,"labelOffset":8}},
     "strokeDash":{"datum":"true wave yᵢ","type":"nominal","scale":{"domain":["true wave yᵢ","reconstruction ŷᵢ"],"range":[[1,0],[3.5,2]]},"legend":{"orient":"top-left","offset":2,"direction":"horizontal","title":null,"labelFontSize":8.5,"symbolType":"stroke","symbolSize":350,"symbolStrokeWidth":1.5,"columnPadding":18,"padding":3,"fillColor":"white","strokeColor":"#cccccc","cornerRadius":2,"labelOffset":8}}}},
    {"mark":{"type":"line","strokeWidth":1.4},"encoding":{"y":{"field":"p","type":"quantitative"},"color":{"datum":"reconstruction ŷᵢ","type":"nominal"},"strokeDash":{"datum":"reconstruction ŷᵢ","type":"nominal"}}}
   ]},
  {"width":245,"height":1,"view":{"stroke":null},"data":{"values":[{"t":"(a)"}]},"mark":{"type":"text","fontSize":10.5,"font":"Liberation Serif","dx":-10,"dy":-18.5,"baseline":"middle"},"encoding":{"text":{"field":"t","type":"nominal"}}},
  {"width":245,"height":1,"view":{"stroke":null},"data":{"values":[{"t":"(b)"}]},"mark":{"type":"text","fontSize":10.5,"font":"Liberation Serif","dx":-13,"dy":-18.5,"baseline":"middle"},"encoding":{"text":{"field":"t","type":"nominal"}}}
],
"columns":2,
"spacing":{"row":77,"column":86},
"bounds":"flush",
"resolve":{"scale":{"color":"independent","strokeDash":"independent"},"legend":{"color":"independent","strokeDash":"independent"}}
}
